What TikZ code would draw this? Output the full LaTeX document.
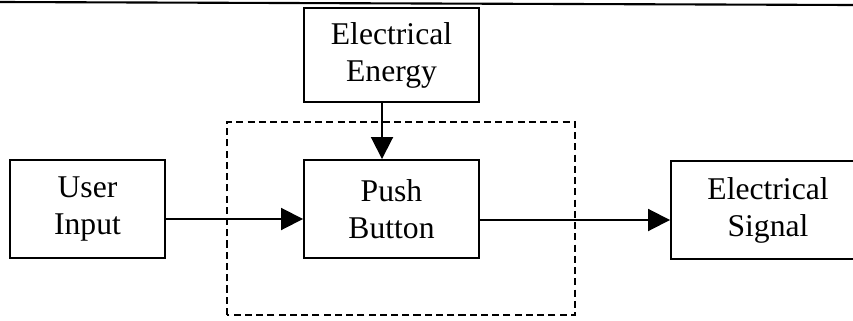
\documentclass[tikz,border=0pt]{standalone}
\usepackage{fontspec}
\setmainfont{Liberation Serif}
\usepackage{tikz}
\usetikzlibrary{arrows.meta, positioning, calc}

\begin{document}
\begin{tikzpicture}[line join=miter,
        block/.style={draw, line width=1.1pt, minimum height=1.96cm, align=center,
                      font=\fontsize{18}{21}\selectfont},
        flow/.style={line width=1.1pt, -{Triangle[length=0.44cm, width=0.44cm]}}]
        \useasboundingbox (0, 0) rectangle (17.06, 6.4);
        \coordinate (tl) at (0, 6.36);
        \coordinate (tr) at (17.06, 6.3);
        \draw[line width=1.2pt] (tl) -- (tr);
        \node[block, minimum width=3.1cm] (ui) at (1.75, 2.22) {User\\Input};
        \node[block, minimum width=3.5cm] (pb) at (7.83, 2.22) {Push\\Button};
        \node[block, minimum width=3.5cm, minimum height=1.88cm] (ee) at (7.83, 5.3) {Electrical\\Energy};
        \node[block, minimum width=3.88cm] (es) at (15.36, 2.2) {Electrical\\Signal};
        \draw[line width=0.9pt, dash pattern=on 4pt off 2.4pt] (4.54, 0.1) rectangle (11.5, 3.96);
        \draw[flow] ([yshift=-0.2cm]ui.east) -- ([yshift=-0.2cm]pb.west);
        \draw[flow] ([yshift=-0.22cm]pb.east) -- ([yshift=-0.2cm]es.west);
        \draw[flow] ([xshift=-0.19cm]ee.south) -- ([xshift=-0.19cm]pb.north);
    \end{tikzpicture}
\end{document}
